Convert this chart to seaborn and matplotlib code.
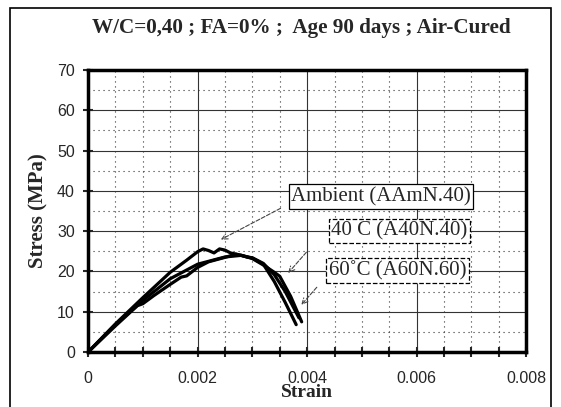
import matplotlib
matplotlib.use("Agg")
import matplotlib.pyplot as plt
import seaborn as sns
import pandas as pd
from matplotlib.ticker import MultipleLocator
from matplotlib.patches import Rectangle

# curves (strain, stress in MPa)
amb_strain = [0, 0.0005, 0.001, 0.0015, 0.0018, 0.002, 0.0021, 0.0022, 0.0023, 0.0024,
              0.0025, 0.0026, 0.0028, 0.003, 0.0032, 0.0034, 0.0036, 0.0038]
amb_stress = [0, 7.0, 13.5, 19.8, 22.8, 24.9, 25.6, 25.2, 24.6, 25.6,
              25.3, 24.6, 24.0, 23.3, 21.8, 17.5, 12.3, 6.8]

c40_strain = [0, 0.0005, 0.001, 0.0015, 0.002, 0.0025, 0.0028, 0.003, 0.0032, 0.0034,
              0.0035, 0.0037, 0.0039]
c40_stress = [0, 6.8, 12.8, 18.2, 21.8, 23.6, 24.0, 23.2, 21.6, 19.8,
              18.8, 13.8, 7.5]

c60_strain = [0, 0.0005, 0.0009, 0.001, 0.0012, 0.0015, 0.0017, 0.0018, 0.002, 0.0022,
              0.0025, 0.0027, 0.0029, 0.003, 0.0032, 0.0034, 0.0036, 0.00385]
c60_stress = [0, 6.5, 11.5, 12.0, 14.0, 16.8, 18.6, 18.9, 21.0, 22.4,
              23.5, 24.3, 23.6, 23.4, 22.0, 19.2, 15.0, 8.5]

labels = ["Ambient (AAmN.40)", "40 C (A40N.40)", "60\u02daC (A60N.60)"]
x_ticks = [0, 0.002, 0.004, 0.006, 0.008]
x_ticklabels = ["0", "0.002", "0.004", "0.006", "0.008"]

df = pd.concat([
    pd.DataFrame({"Strain": amb_strain, "Stress": amb_stress, "curve": labels[0]}),
    pd.DataFrame({"Strain": c40_strain, "Stress": c40_stress, "curve": labels[1]}),
    pd.DataFrame({"Strain": c60_strain, "Stress": c60_stress, "curve": labels[2]}),
])

sns.set_style("white")
plt.rcParams["font.family"] = ["Liberation Sans", "DejaVu Sans"]

fig = plt.figure(figsize=(5.61, 4.07), dpi=100)
ax = fig.add_axes([0.157, 0.135, 0.781, 0.693])

for name in labels:
    d = df[df["curve"] == name]
    sns.lineplot(data=d, x="Strain", y="Stress", ax=ax, color="black", lw=2.3,
                 sort=False, estimator=None, legend=False)

ax.set_xlim(0, 0.008)
ax.set_ylim(0, 70)
ax.set_xticks(x_ticks, x_ticklabels)
ax.xaxis.set_minor_locator(MultipleLocator(0.0005))
ax.yaxis.set_major_locator(MultipleLocator(10))
ax.yaxis.set_minor_locator(MultipleLocator(5))
ax.grid(which="major", color="#333333", lw=0.8, ls="-")
ax.grid(which="minor", color="#333333", lw=0.8, ls=(0, (1, 3.5)))
ax.tick_params(which="major", direction="inout", length=7, width=1.5, labelsize=11.5,
               pad=6, bottom=True, left=True)
ax.tick_params(axis="x", which="major", pad=10)
ax.tick_params(axis="x", which="minor", direction="inout", length=7, width=1.5, bottom=True)
ax.tick_params(axis="y", which="minor", left=False)
for s in ax.spines.values():
    s.set_color("black")
    s.set_linewidth(2.5)

ax.set_xlabel("Strain", family="Liberation Serif", fontweight="bold", fontsize=14, labelpad=-1)
ax.set_ylabel("Stress (MPa)", family="Liberation Serif", fontweight="bold", fontsize=15,
              labelpad=6)
fig.text(0.537, 0.932, "W/C=0,40 ; FA=0% ;  Age 90 days ; Air-Cured", ha="center", va="center",
         family="Liberation Serif", fontweight="bold", fontsize=15.2)

# callouts
ann = [
    (labels[0], (0.00238, 27.6), (0.00535, 38.6), (0.00356, 36.0), "-"),
    (labels[1], (0.00362, 19.1), (0.00568, 30.0), (0.00402, 25.3), "--"),
    (labels[2], (0.00386, 11.2), (0.00565, 20.2), (0.00421, 16.6), "--"),
]
for text, head, center, tail, bls in ann:
    ax.text(center[0], center[1], text, ha="center", va="center", family="Liberation Serif",
            fontsize=15, zorder=5,
            bbox=dict(boxstyle="square,pad=0.12", fc="white", ec="black", lw=0.9, ls=bls))
    ax.annotate("", xy=head, xytext=tail,
                arrowprops=dict(arrowstyle="->", color="#444444", lw=0.8, ls="--"))

# outer frame of the scanned figure
fig.patches.append(Rectangle((0.018, -0.05), 0.965, 1.03, transform=fig.transFigure,
                             fill=False, ec="black", lw=1.2))

fig.savefig("out.png", dpi=100)
